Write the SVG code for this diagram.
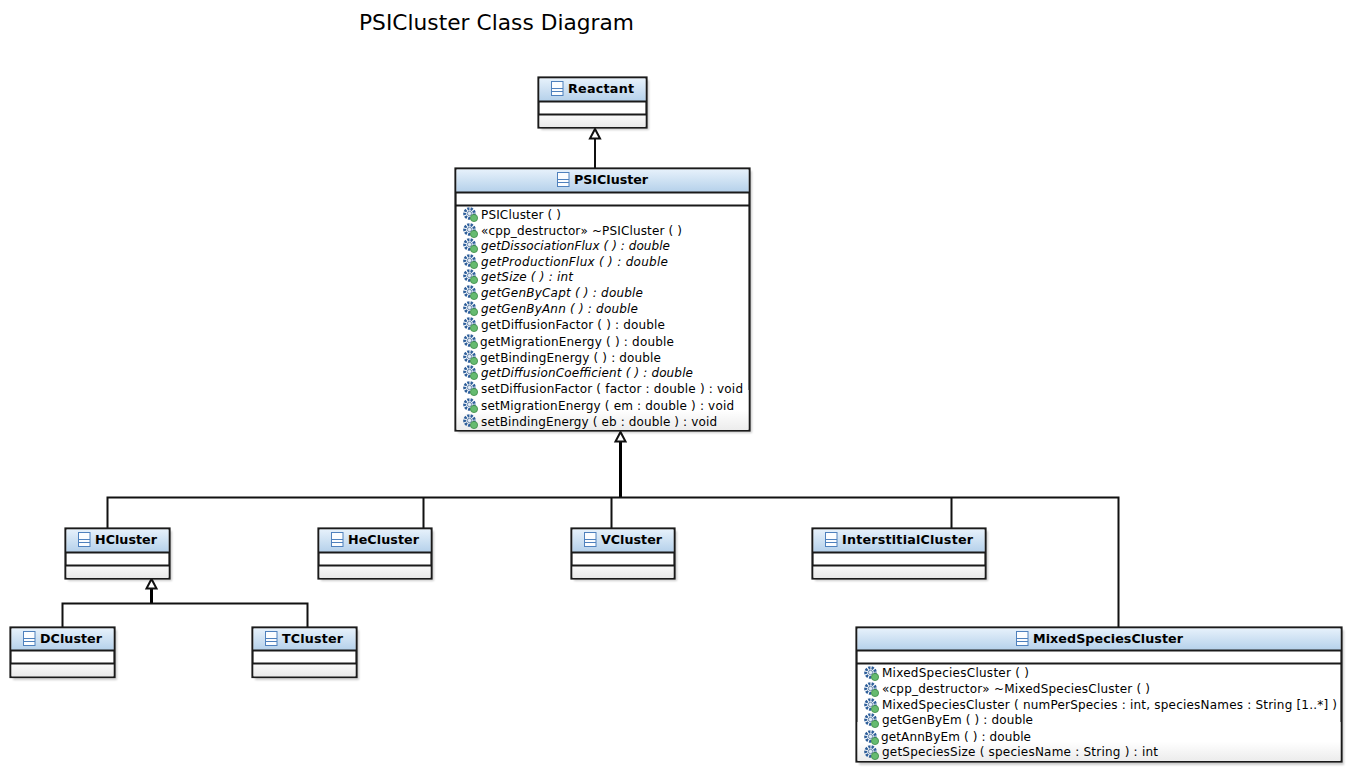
<svg xmlns="http://www.w3.org/2000/svg" width="1356" height="777" viewBox="0 0 1356 777">
<style>
text{font-family:"DejaVu Sans",sans-serif;fill:#000}
.title{font-size:21.7px}
.name{font-size:12.7px;font-weight:bold}
.op{font-size:12px}
.abs{font-style:italic}
.box{fill:#fff;stroke:#1a1a1a;stroke-width:2.2}
.hdr{fill:url(#hg)}
.foot{fill:url(#fg)}
.div{stroke:#1a1a1a;stroke-width:2;fill:none}
.shadow{fill:#000;opacity:.2;filter:url(#blur)}
.c{fill:none;stroke:#111;stroke-width:2}
.c3{fill:none;stroke:#000;stroke-width:3}
.tri{fill:#fff;stroke:#111;stroke-width:2}
</style>
<defs>
<linearGradient id="hg" x1="0" y1="0" x2="0" y2="1"><stop offset="0" stop-color="#e6f1fb"/><stop offset="1" stop-color="#b4d0ea"/></linearGradient>
<linearGradient id="fg" x1="0" y1="0" x2="0" y2="1"><stop offset="0" stop-color="#fafafa"/><stop offset="1" stop-color="#e9e9e9"/></linearGradient>
<linearGradient id="fl" x1="0" y1="0" x2="0" y2="1"><stop offset="0" stop-color="#fff"/><stop offset=".5" stop-color="#fff"/><stop offset="1" stop-color="#ececec"/></linearGradient>
<filter id="blur" x="-10%" y="-10%" width="120%" height="120%"><feGaussianBlur stdDeviation="1.2"/></filter>
<symbol id="cls" width="14" height="15" viewBox="0 0 14 15" overflow="visible">
<rect x=".5" y=".5" width="11.500" height="14" fill="#fbfdff" stroke="#4f81bd"/>
<path d="M1 7.500H12M1 10.500H12" stroke="#4f81bd" fill="none"/>
</symbol>
<symbol id="op" width="16" height="16" viewBox="0 0 16 16" overflow="visible">
<circle cx="6.500" cy="6.500" r="4.800" fill="none" stroke="#2f5f9a" stroke-width="3" stroke-dasharray="2.200 1.100"/>
<circle cx="6.500" cy="6.500" r="2.200" fill="#e4ecf5" stroke="#4a6f9c" stroke-width=".8"/>
<circle cx="11" cy="11" r="3.600" fill="#66bb70" stroke="#3c8a46" stroke-width=".8"/>
</symbol>
</defs>
<text class="title" x="359" y="30" textLength="275">PSICluster Class Diagram</text>
<g id="connectors">
<path class="c" d="M595 168V138"/>
<path class="tri" d="M595 129L590 138.500H600Z"/>
<path class="c3" d="M620.500 497V441"/>
<path class="tri" d="M620.500 432L615.500 441.500H625.500Z"/>
<path class="c" d="M107.500 528V497.500H1118.500V627M423.500 497.500V528M611.500 497.500V528M951.500 497.500V528"/>
<path class="c3" d="M151.500 603V588"/>
<path class="tri" d="M151.500 579L146.500 588.500H156.500Z"/>
<path class="c" d="M62.500 627V603.500H307.500V627"/>
</g>
<g id="Reactant">
<rect class="shadow" x="541" y="80" width="108" height="50"/>
<rect class="box" x="538.500" y="77.500" width="108" height="50"/>
<rect class="hdr" x="539.500" y="78.500" width="106" height="23"/>
<rect class="foot" x="539.500" y="115" width="106" height="12"/>
<path class="div" d="M538.500 101.500H646.500M538.500 114.500H646.500"/>
<use href="#cls" x="551" y="81"/>
<text class="name" x="568" y="93" textLength="66">Reactant</text>
</g>
<g id="PSICluster">
<rect class="shadow" x="458" y="171" width="294" height="262"/>
<rect class="box" x="455.500" y="168.500" width="294" height="262"/>
<rect class="hdr" x="456.500" y="169.500" width="292" height="23"/>
<rect fill="url(#fl)" x="456.500" y="390" width="292" height="40"/>
<path class="div" d="M455.500 192.500H749.500M455.500 205.500H749.500"/>
<use href="#cls" x="557" y="172"/>
<text class="name" x="574" y="184" textLength="74">PSICluster</text>
<use href="#op" x="463" y="207"/><text class="op" x="481" y="219" textLength="80">PSICluster ( )</text>
<use href="#op" x="463" y="223"/><text class="op" x="481" y="235" textLength="201">«cpp_destructor» ~PSICluster ( )</text>
<use href="#op" x="463" y="238"/><text class="op abs" x="481" y="250" textLength="189">getDissociationFlux ( ) : double</text>
<use href="#op" x="463" y="254"/><text class="op abs" x="481" y="266" textLength="187">getProductionFlux ( ) : double</text>
<use href="#op" x="463" y="269"/><text class="op abs" x="481" y="281" textLength="92">getSize ( ) : int</text>
<use href="#op" x="463" y="285"/><text class="op abs" x="481" y="297" textLength="162">getGenByCapt ( ) : double</text>
<use href="#op" x="463" y="301"/><text class="op abs" x="481" y="313" textLength="157">getGenByAnn ( ) : double</text>
<use href="#op" x="463" y="317"/><text class="op" x="481" y="329" textLength="184">getDiffusionFactor ( ) : double</text>
<use href="#op" x="463" y="334"/><text class="op" x="480" y="346" textLength="194">getMigrationEnergy ( ) : double</text>
<use href="#op" x="463" y="350"/><text class="op" x="480" y="362" textLength="181">getBindingEnergy ( ) : double</text>
<use href="#op" x="463" y="365"/><text class="op abs" x="481" y="377" textLength="212">getDiffusionCoefficient ( ) : double</text>
<use href="#op" x="463" y="381"/><text class="op" x="481" y="393" textLength="262">setDiffusionFactor ( factor : double ) : void</text>
<use href="#op" x="463" y="398"/><text class="op" x="481" y="410" textLength="253">setMigrationEnergy ( em : double ) : void</text>
<use href="#op" x="463" y="414"/><text class="op" x="481" y="426" textLength="236">setBindingEnergy ( eb : double ) : void</text>
</g>
<g id="HCluster">
<rect class="shadow" x="68" y="531" width="104" height="50"/>
<rect class="box" x="65.500" y="528.500" width="104" height="50"/>
<rect class="hdr" x="66.500" y="529.500" width="102" height="23"/>
<rect class="foot" x="66.500" y="566" width="102" height="12"/>
<path class="div" d="M65.500 552.500H169.500M65.500 565.500H169.500"/>
<use href="#cls" x="78" y="532"/>
<text class="name" x="95" y="544" textLength="62">HCluster</text>
</g>
<g id="HeCluster">
<rect class="shadow" x="321" y="531" width="113" height="50"/>
<rect class="box" x="318.500" y="528.500" width="113" height="50"/>
<rect class="hdr" x="319.500" y="529.500" width="111" height="23"/>
<rect class="foot" x="319.500" y="566" width="111" height="12"/>
<path class="div" d="M318.500 552.500H431.500M318.500 565.500H431.500"/>
<use href="#cls" x="331" y="532"/>
<text class="name" x="348" y="544" textLength="71">HeCluster</text>
</g>
<g id="VCluster">
<rect class="shadow" x="574" y="531" width="103" height="50"/>
<rect class="box" x="571.500" y="528.500" width="103" height="50"/>
<rect class="hdr" x="572.500" y="529.500" width="101" height="23"/>
<rect class="foot" x="572.500" y="566" width="101" height="12"/>
<path class="div" d="M571.500 552.500H674.500M571.500 565.500H674.500"/>
<use href="#cls" x="584" y="532"/>
<text class="name" x="601" y="544" textLength="61">VCluster</text>
</g>
<g id="InterstitialCluster">
<rect class="shadow" x="815" y="531" width="173" height="50"/>
<rect class="box" x="812.500" y="528.500" width="173" height="50"/>
<rect class="hdr" x="813.500" y="529.500" width="171" height="23"/>
<rect class="foot" x="813.500" y="566" width="171" height="12"/>
<path class="div" d="M812.500 552.500H985.500M812.500 565.500H985.500"/>
<use href="#cls" x="825" y="532"/>
<text class="name" x="842" y="544" textLength="131">InterstitialCluster</text>
</g>
<g id="DCluster">
<rect class="shadow" x="13" y="630" width="104" height="50"/>
<rect class="box" x="10.500" y="627.500" width="104" height="49.500"/>
<rect class="hdr" x="11.500" y="628.500" width="102" height="22"/>
<rect class="foot" x="11.500" y="664" width="102" height="12.500"/>
<path class="div" d="M10.500 650.500H114.500M10.500 663.500H114.500"/>
<use href="#cls" x="23" y="631"/>
<text class="name" x="40" y="643" textLength="62">DCluster</text>
</g>
<g id="TCluster">
<rect class="shadow" x="255" y="630" width="104" height="50"/>
<rect class="box" x="252.500" y="627.500" width="104" height="49.500"/>
<rect class="hdr" x="253.500" y="628.500" width="102" height="22"/>
<rect class="foot" x="253.500" y="664" width="102" height="12.500"/>
<path class="div" d="M252.500 650.500H356.500M252.500 663.500H356.500"/>
<use href="#cls" x="265" y="631"/>
<text class="name" x="282" y="643" textLength="61">TCluster</text>
</g>
<g id="MixedSpeciesCluster">
<rect class="shadow" x="859" y="630" width="485" height="135"/>
<rect class="box" x="856.500" y="627.500" width="485" height="134"/>
<rect class="hdr" x="857.500" y="628.500" width="483" height="22"/>
<rect fill="url(#fl)" x="857.500" y="722" width="483" height="39"/>
<path class="div" d="M856.500 650.500H1341.500M856.500 663.500H1341.500"/>
<use href="#cls" x="1016" y="631"/>
<text class="name" x="1033" y="643" textLength="150">MixedSpeciesCluster</text>
<use href="#op" x="864" y="666"/><text class="op" x="882" y="677" textLength="147">MixedSpeciesCluster ( )</text>
<use href="#op" x="864" y="682"/><text class="op" x="882" y="693" textLength="268">«cpp_destructor» ~MixedSpeciesCluster ( )</text>
<use href="#op" x="864" y="698"/><text class="op" x="882" y="709" textLength="455">MixedSpeciesCluster ( numPerSpecies : int, speciesNames : String [1..*] )</text>
<use href="#op" x="864" y="713"/><text class="op" x="882" y="724" textLength="151">getGenByEm ( ) : double</text>
<use href="#op" x="864" y="730"/><text class="op" x="881" y="741" textLength="150">getAnnByEm ( ) : double</text>
<use href="#op" x="864" y="745"/><text class="op" x="882" y="756" textLength="276">getSpeciesSize ( speciesName : String ) : int</text>
</g>
</svg>
